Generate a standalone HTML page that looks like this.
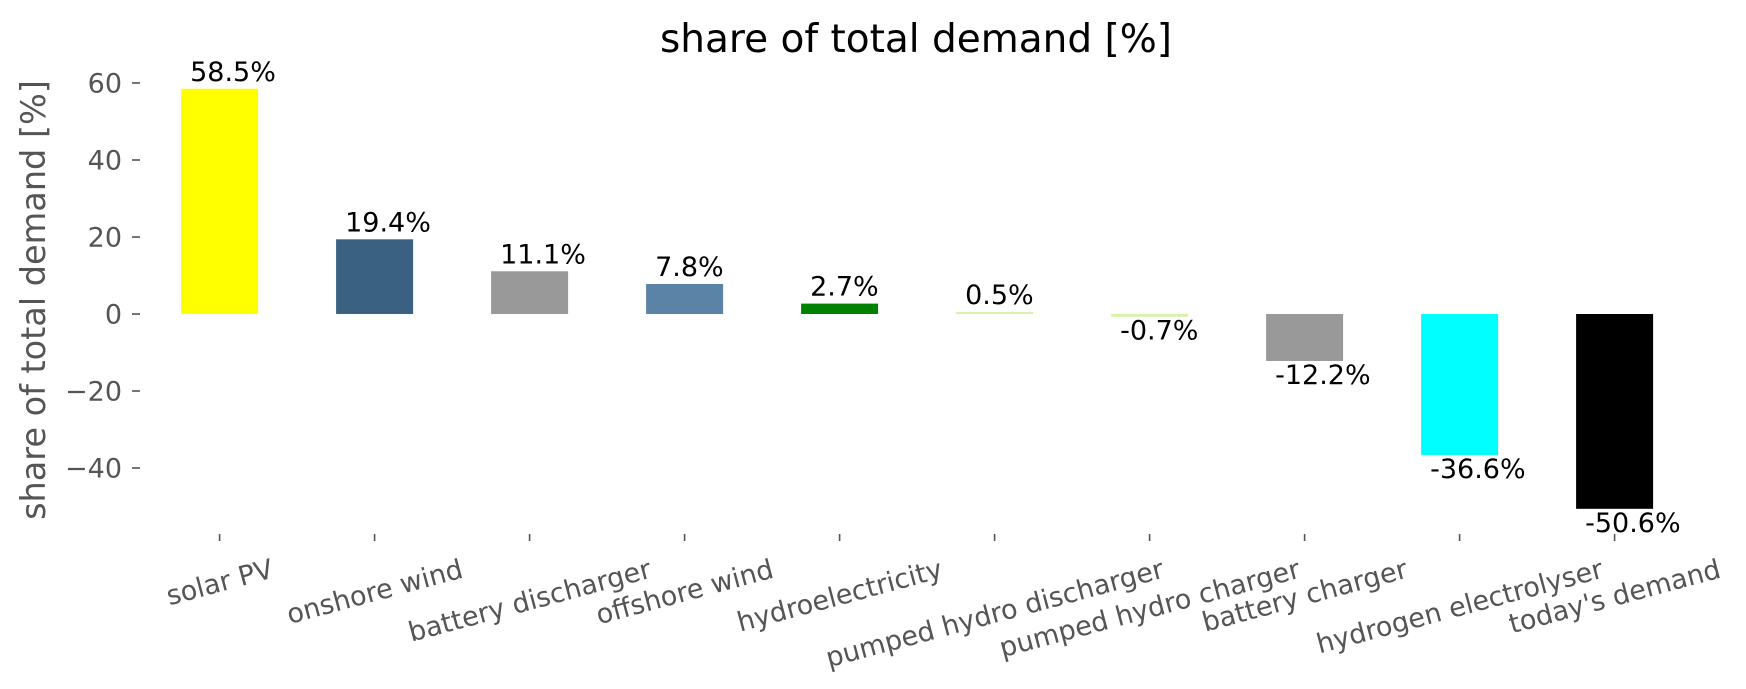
<!DOCTYPE html>
<html><head><meta charset="utf-8"><style>
html,body{margin:0;padding:0;background:#fff;}
svg{display:block;font-family:"DejaVu Sans","Liberation Sans",sans-serif;}
</style></head><body>
<svg id="s" width="1746" height="689" viewBox="0 0 1746 689" xmlns="http://www.w3.org/2000/svg">
<text x="916" y="52" font-size="39" text-anchor="middle" fill="#000">share of total demand [%]</text>
<text transform="translate(45,300) rotate(-90)" font-size="33.5" text-anchor="middle" fill="#555">share of total demand [%]</text>
<g id="g"></g>
</svg>
<script>
var g=document.getElementById('g'),NS="http://www.w3.org/2000/svg";
function el(t,a,txt){var e=document.createElementNS(NS,t);for(var k in a)e.setAttribute(k,a[k]);if(txt!==undefined)e.textContent=txt;g.appendChild(e);return e;}
var z=314,u=3.85;
[60,40,20,0,-20,-40].forEach(function(v){var y=z-u*v;
el('line',{x1:132,x2:140,y1:y,y2:y,stroke:'#555','stroke-width':1.6});
el('text',{x:122,y:y+9.5,'font-size':27,'text-anchor':'end',fill:'#555'},v<0?'\u2212'+(-v):''+v);});
var d=[["solar PV",58.5,"#ffff00"],["onshore wind",19.4,"#3b6182"],["battery discharger",11.1,"#999999"],["offshore wind",7.8,"#5b83a6"],["hydroelectricity",2.7,"#008000"],["pumped hydro discharger",0.5,"#d6f3a4"],["pumped hydro charger",-0.7,"#d6f3a4"],["battery charger",-12.2,"#999999"],["hydrogen electrolyser",-36.6,"#00ffff"],["today's demand",-50.6,"#000000"]];
d.forEach(function(r,i){var c=219.6+155*i,l=c-38.5,h=Math.abs(r[1])*u;
var y=r[1]>=0?z-h:z;
el('rect',{x:l,y:y,width:77,height:h,fill:r[2]});
var ty=r[1]>=0?z-h-8:z+h+23;
el('text',{x:l+9,y:ty,'font-size':27,fill:'#000'},r[1].toFixed(1)+'%');
el('line',{x1:c,x2:c,y1:534,y2:541,stroke:'#555','stroke-width':1.6});
var t=el('text',{x:c,y:0,'font-size':27,'text-anchor':'middle',fill:'#555'},r[0]);
var w=t.getComputedTextLength(),s=Math.sin(15*Math.PI/180),co=Math.cos(15*Math.PI/180);
var H=w*s+31*co,cy=553+H/2;
t.setAttribute('y',cy+9.5);
t.setAttribute('transform','rotate(-15 '+c+' '+cy+')');});
</script>
</body></html>
